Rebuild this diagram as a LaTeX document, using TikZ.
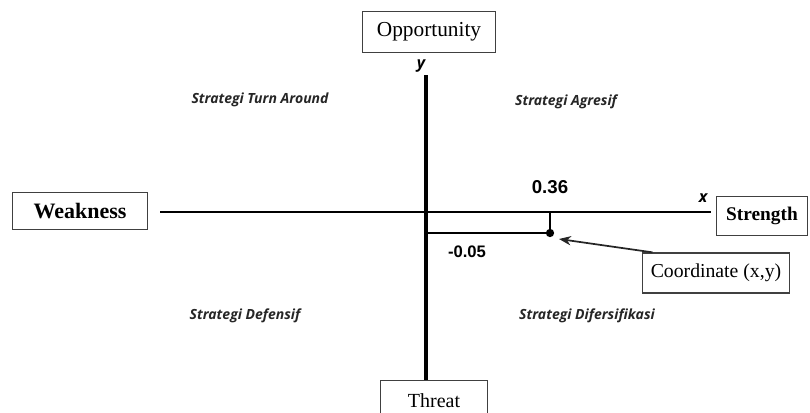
\documentclass[tikz,border=0pt]{standalone}
\usepackage{fontspec}
\setmainfont{Liberation Serif}
\newfontfamily\quadfont{Open Sans}
\newfontfamily\numfont{Liberation Sans}
\usepackage{tikz}
\usetikzlibrary{arrows.meta,positioning,calc}

\begin{document}
\begin{tikzpicture}[
    x=0.75pt, y=-0.75pt,
    side/.style={rectangle, draw=black!75, line width=1pt, fill=white, font=\fontsize{16}{19}\selectfont},
    quad/.style={font=\quadfont\bfseries\itshape\fontsize{10.5}{12}\selectfont, text=black!85},
    axis/.style={line width=2pt},
    axlabel/.style={font=\quadfont\bfseries\itshape\fontsize{12}{14}\selectfont},
    value/.style={font=\numfont\bfseries\fontsize{14}{16}\selectfont},
    pointer/.style={-{Stealth[length=9pt, width=7pt]}, line width=1.3pt, black!85},
]
    \useasboundingbox (0,0) rectangle (810,412);

    % side boxes
    \node[side, minimum width=100pt, minimum height=31pt] (opp) at (429,32) {Opportunity};
    \node[side, minimum width=80pt, minimum height=31pt, font=\fontsize{15}{18}\selectfont] (threat) at (434,401) {Threat};
    \node[side, minimum width=101pt, minimum height=28pt, font=\bfseries\fontsize{16.5}{19}\selectfont] (weak) at (80,211) {Weakness};
    \node[side, minimum width=68pt, minimum height=29pt, font=\bfseries\fontsize{14.5}{17}\selectfont] (strong) at (762,216) {Strength};
    \node[side, minimum width=110pt, minimum height=30pt, font=\fontsize{14.8}{17}\selectfont] (coord) at (716,273) {Coordinate (x,y)};

    % axes
    \node[axlabel] (ylab) at (421,66) {y};
    \node[axlabel] (xlab) at (703,198) {x};
    \coordinate (ytop) at (426,75);
    \coordinate (xleft) at (160,212);
    \coordinate (xright) at (711,212);
    \draw[axis, line width=2.3pt] (ytop) -- (ytop |- threat.north);
    \draw[axis] (xleft) -- (xright);

    % quadrants
    \node[quad] (turn) at (260,100) {Strategi Turn Around};
    \node[quad] (agr) at (566,102) {Strategi Agresif};
    \node[quad] (def) at (245,316) {Strategi Defensif};
    \node[quad] (dif) at (587,316) {Strategi Difersifikasi};

    % point
    \node[circle, fill=black, inner sep=2.2pt] (dot) at (550,233) {};
    \coordinate (dotx) at (550,212);
    \coordinate (doty) at (426,233);
    \draw[line width=1.3pt] (doty) -- (dot.center) -- (dotx);
    \node[value] (vx) at (550,187) {0.36};
    \node[value, font=\numfont\bfseries\fontsize{12.5}{15}\selectfont] (vy) at (467,252) {-0.05};

    \coordinate (tip) at (559,239);
    \draw[pointer] (coord.162) -- (tip);
\end{tikzpicture}
\end{document}
